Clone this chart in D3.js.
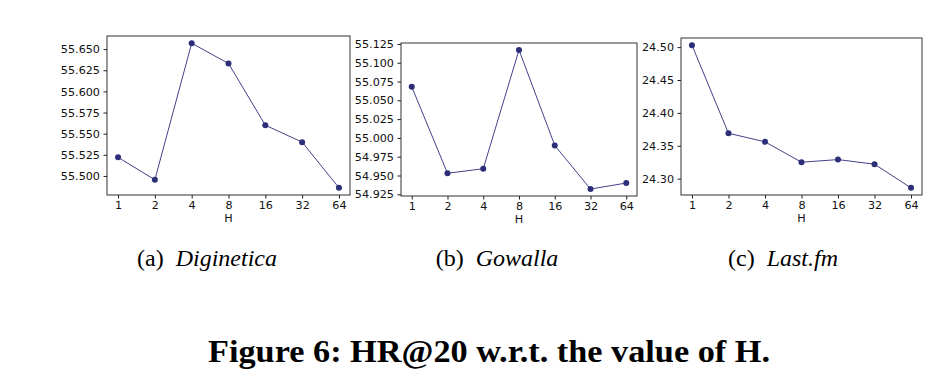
<!DOCTYPE html>
<html>
<head>
<meta charset="utf-8">
<script src="https://cdn.jsdelivr.net/npm/d3@7"></script>
<style>
  body { margin: 0; background: #fff; }
  svg { display: block; }
</style>
</head>
<body>
<div id="chart"></div>
<script>
// x categories (value of H)
const hValues = ["1", "2", "4", "8", "16", "32", "64"];

// HR@20 per dataset
const digineticaHR = [55.522, 55.4955, 55.657, 55.633, 55.560, 55.540, 55.486];
const gowallaHR = [55.068, 54.953, 54.959, 55.117, 54.990, 54.932, 54.940];
const lastfmHR = [24.503, 24.369, 24.356, 24.325, 24.329, 24.322, 24.286];

// y tick labels
const digineticaTicks = [55.500, 55.525, 55.550, 55.575, 55.600, 55.625, 55.650];
const gowallaTicks = [54.925, 54.950, 54.975, 55.000, 55.025, 55.050, 55.075, 55.100, 55.125];
const lastfmTicks = [24.30, 24.35, 24.40, 24.45, 24.50];

const captionTags = ["(a)", "(b)", "(c)"];
const captionNames = ["Diginetica", "Gowalla", "Last.fm"];
const figureTitle = "Figure 6: HR@20 w.r.t. the value of H.";

const W = 949, H = 391;
const lineColor = "#41428c";
const dotColor = "#2c2e78";

const svg = d3.select("#chart").append("svg")
    .attr("width", W)
    .attr("height", H);

// panel boxes (plot area) and caption centres
let panels = [
    {values: digineticaHR, ticks: digineticaTicks, fmt: ".3f", x0: 107, x1: 350, y0: 36, y1: 195, capX: 207},
    {values: gowallaHR, ticks: gowallaTicks, fmt: ".3f", x0: 401, x1: 637, y0: 43, y1: 196, capX: 497},
    {values: lastfmHR, ticks: lastfmTicks, fmt: ".2f", x0: 681, x1: 922, y0: 38, y1: 195, capX: 783}
];

panels.forEach(function(p, i) {
    let x = d3.scalePoint()
        .domain(hValues)
        .range([p.x0, p.x1])
        .padding(0.3);

    // matplotlib style 5% margin around the data
    let ext = d3.extent(p.values);
    let pad = (ext[1] - ext[0]) * 0.05;
    let y = d3.scaleLinear()
        .domain([ext[0] - pad, ext[1] + pad])
        .range([p.y1, p.y0]);

    let g = svg.append("g");

    let xAxis = g.append("g")
        .attr("transform", `translate(0, ${p.y1})`)
        .call(d3.axisBottom(x).tickSize(3.5).tickPadding(2.5).tickSizeOuter(0));

    let yAxis = g.append("g")
        .attr("transform", `translate(${p.x0}, 0)`)
        .call(d3.axisLeft(y).tickValues(p.ticks).tickFormat(d3.format(p.fmt))
            .tickSize(3.5).tickPadding(3.5).tickSizeOuter(0));

    [xAxis, yAxis].forEach(function(a) {
        a.select(".domain").remove();
        a.selectAll("line").attr("stroke", "#000").attr("stroke-width", 0.9);
        a.selectAll("text")
            .attr("fill", "#111")
            .style("font-family", "DejaVu Sans")
            .style("font-size", "11.2px");
    });

    // frame
    g.append("rect")
        .attr("x", p.x0)
        .attr("y", p.y0)
        .attr("width", p.x1 - p.x0)
        .attr("height", p.y1 - p.y0)
        .attr("fill", "none")
        .attr("stroke", "#333")
        .attr("stroke-width", 1);

    // x label
    g.append("text")
        .attr("x", (p.x0 + p.x1) / 2)
        .attr("y", p.y1 + 27)
        .attr("text-anchor", "middle")
        .attr("fill", "#111")
        .style("font-family", "DejaVu Sans")
        .style("font-size", "11.2px")
        .text("H");

    let line = d3.line()
        .x((d, j) => x(hValues[j]))
        .y(d => y(d));

    g.append("path")
        .datum(p.values)
        .attr("d", line)
        .attr("fill", "none")
        .attr("stroke", lineColor)
        .attr("stroke-width", 1);

    g.selectAll(".dot")
        .data(p.values)
        .enter().append("circle")
        .attr("class", "dot")
        .attr("cx", (d, j) => x(hValues[j]))
        .attr("cy", d => y(d))
        .attr("r", 3)
        .attr("fill", dotColor);

    // sub caption
    let cap = svg.append("text")
        .attr("x", p.capX)
        .attr("y", 266)
        .attr("text-anchor", "middle")
        .style("font-family", "Liberation Serif")
        .style("font-size", "24px");
    cap.append("tspan").text(captionTags[i] + "\u00a0 ");
    cap.append("tspan").style("font-style", "italic").text(captionNames[i]);
});

svg.append("text")
    .attr("x", 489)
    .attr("y", 362)
    .attr("text-anchor", "middle")
    .attr("textLength", 562)
    .attr("lengthAdjust", "spacingAndGlyphs")
    .style("font-family", "Liberation Serif")
    .style("font-weight", "bold")
    .style("font-size", "31px")
    .text(figureTitle);
</script>
</body>
</html>
